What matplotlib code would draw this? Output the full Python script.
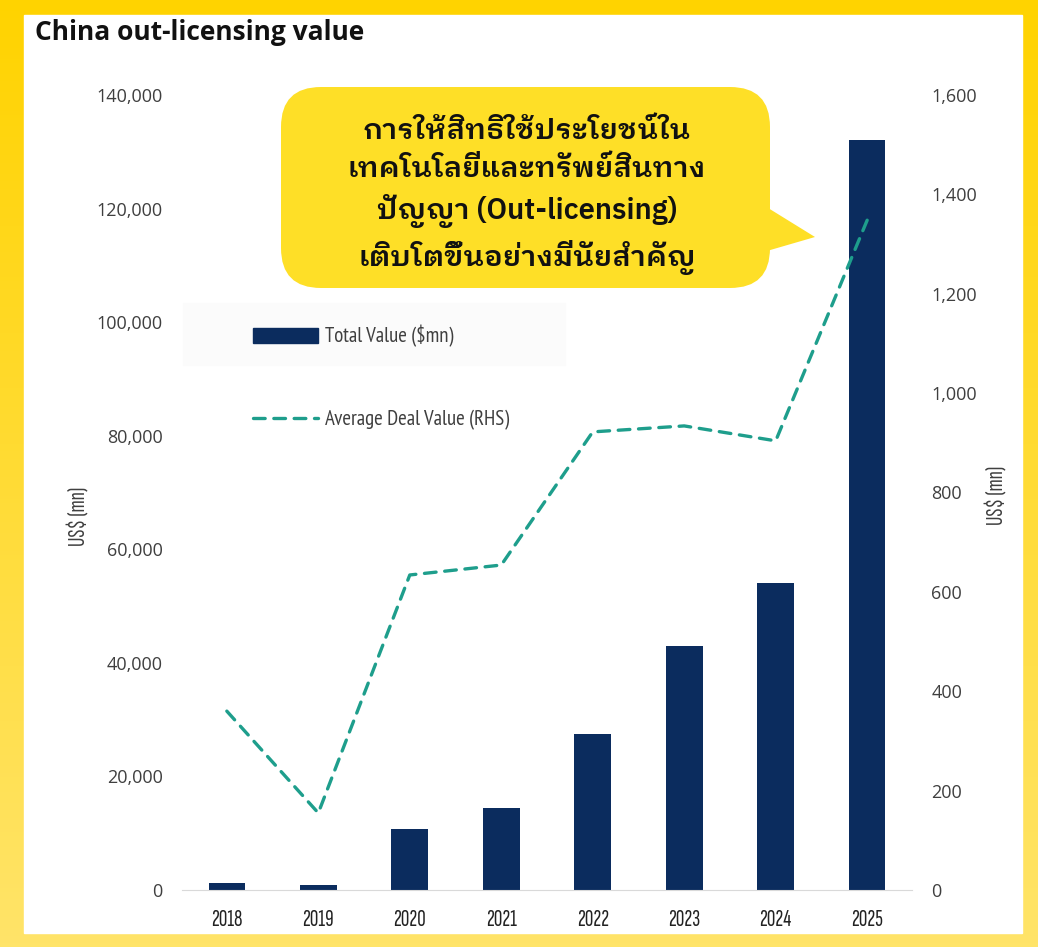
import matplotlib
matplotlib.use("Agg")
import matplotlib.pyplot as plt
import numpy as np
from matplotlib.patches import Rectangle, FancyBboxPatch, Polygon
from matplotlib.lines import Line2D
from matplotlib.ticker import FuncFormatter

# data
years = ["2018", "2019", "2020", "2021", "2022", "2023", "2024", "2025"]
total_value = [1300, 900, 10700, 14400, 27500, 43000, 54000, 132000]
avg_deal_value = [360, 155, 634, 654, 922, 934, 904, 1348]

title = "China out-licensing value"
callout_lines = [
    "การให้สิทธิใช้ประโยชน์ใน",
    "เทคโนโลยีและทรัพย์สินทาง",
    "ปัญญา (Out-licensing)",
    "เติบโตขึ้นอย่างมีนัยสำคัญ",
]
bar_label = "Total Value ($mn)"
line_label = "Average Deal Value (RHS)"
axis_label = "US$ (mn)"

navy = "#0B2C5E"
teal = "#1E9E8C"
gray = "#3F3F3F"

xcond = ["Sofia Sans Extra Condensed", "Sofia Sans Condensed", "DejaVu Sans"]
narrow = ["PT Sans Narrow", "Sofia Sans Condensed", "DejaVu Sans"]
ticks_font = ["Open Sans", "DejaVu Sans"]
thai_font = ["IBM Plex Sans Thai Looped", "Noto Sans Thai Looped", "Loma", "DejaVu Sans"]

W, H = 1038, 947
fig = plt.figure(figsize=(W / 100, H / 100), dpi=100)

# background: yellow frame with white panel
bg = fig.add_axes([0, 0, 1, 1], zorder=-10)
bg.axis("off")
top_col = np.array([255, 211, 0]) / 255
bot_col = np.array([255, 228, 105]) / 255
t = np.linspace(0, 1, 256)[:, None]
grad = (top_col * (1 - t) + bot_col * t)[:, None, :]
bg.imshow(grad, extent=[0, W, H, 0], aspect="auto")
bg.add_patch(Rectangle((24, 15), 998, 918, color="white"))
bg.add_patch(Rectangle((183, 303), 382, 62, color="#FBFBFB"))
bg.set_xlim(0, W)
bg.set_ylim(H, 0)

fig.text(35 / W, 1 - 33 / H, title, fontsize=19, fontweight="bold",
         family=["Open Sans", "DejaVu Sans"],
         va="center", ha="left", color="#111111")

# main chart
ax = fig.add_axes([182 / W, 57 / H, 730 / W, 795 / H])
ax.patch.set_alpha(0)
x = np.arange(len(years))
ax.bar(x, total_value, width=0.4, color=navy, zorder=2)
ax.set_xlim(-0.49, 7.49)
ax.set_ylim(0, 140000)
ax.set_yticks(np.arange(0, 140001, 20000))
ax.yaxis.set_major_formatter(FuncFormatter(lambda v, p: f"{v:,.0f}"))
ax.set_xticks(x)
ax.set_xticklabels(years)
for s in ["top", "left", "right"]:
    ax.spines[s].set_visible(False)
ax.spines["bottom"].set_color("#D9D9D9")
ax.tick_params(axis="y", length=0, pad=14, labelsize=13, labelcolor=gray)
ax.tick_params(axis="x", length=0, pad=14, labelsize=17, labelcolor="#222222")
for lab in ax.get_yticklabels():
    lab.set_family(ticks_font)
for lab in ax.get_xticklabels():
    lab.set_family(xcond)

ax2 = ax.twinx()
ax2.plot(x, avg_deal_value, color=teal, lw=2.4, linestyle=(0, (3.5, 2.6)),
         dash_capstyle="round", zorder=3)
ax2.set_ylim(0, 1600)
ax2.set_yticks(np.arange(0, 1601, 200))
ax2.yaxis.set_major_formatter(FuncFormatter(lambda v, p: f"{v:,.0f}"))
for s in ax2.spines.values():
    s.set_visible(False)
ax2.tick_params(axis="y", length=0, pad=14, labelsize=13, labelcolor=gray)
for lab in ax2.get_yticklabels():
    lab.set_family(ticks_font)

fig.text(79 / W, 1 - 516 / H, axis_label, rotation=90, ha="center", va="center",
         fontsize=17, color=gray, family=xcond)
fig.text(997 / W, 1 - 495 / H, axis_label, rotation=90, ha="center", va="center",
         fontsize=17, color=gray, family=xcond)

handles = [Rectangle((0, 0), 1, 1, color=navy),
           Line2D([0], [0], color=teal, lw=2.4, linestyle=(0, (3.5, 2.6)), dash_capstyle="round")]
leg = ax.legend(handles, [bar_label, line_label], loc="upper left",
                bbox_to_anchor=((253 - 182) / 730, (890 - 325) / 795),
                frameon=False, labelspacing=3.0, handlelength=3.1,
                handletextpad=0.35, borderpad=0, borderaxespad=0, labelcolor=gray,
                prop={"family": narrow, "size": 15})

# call-out bubble
ov = fig.add_axes([0, 0, 1, 1], zorder=10)
ov.axis("off")
ov.patch.set_alpha(0)
bubble = "#FEDF27"
ov.add_patch(FancyBboxPatch((281, 87), 489, 201, boxstyle="round,pad=0,rounding_size=40",
                            color=bubble, lw=0))
ov.add_patch(Polygon([[760, 203], [815, 237], [760, 253]], closed=True, color=bubble, lw=0))
ov.text(527, 196, "\n".join(callout_lines), ha="center", va="center", fontsize=21,
        fontweight="semibold", linespacing=1.45, family=thai_font, color="#111111")
ov.set_xlim(0, W)
ov.set_ylim(H, 0)

fig.savefig("out.png", dpi=100)
